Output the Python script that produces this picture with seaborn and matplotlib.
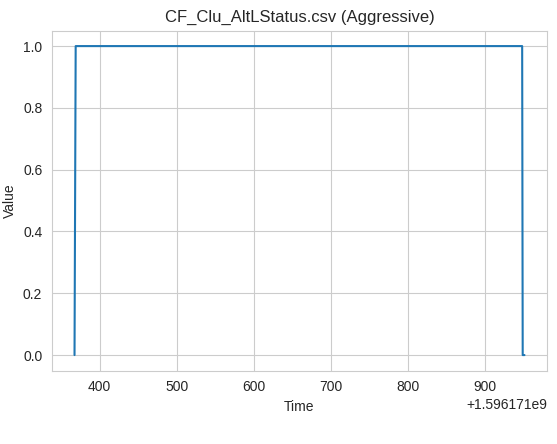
import matplotlib
matplotlib.use("Agg")
import matplotlib.pyplot as plt
import pandas as pd
import seaborn as sns

# status signal samples (epoch seconds) and values
TIME = [1596171367.5, 1596171369.0, 1596171948.5, 1596171949.2, 1596171951.5]
VALUE = [0, 1, 1, 0, 0]

sns.set_style("whitegrid")
plt.rcParams['font.family'] = ['Liberation Sans', 'DejaVu Sans']

df = pd.DataFrame({'Time': TIME, 'Value': VALUE})

fig, ax = plt.subplots(figsize=(5.57, 4.44), dpi=100)
sns.lineplot(x='Time', y='Value', data=df, ax=ax, color='#1f77b4', linewidth=1.5)
ax.set_title('CF_Clu_AltLStatus.csv (Aggressive)', fontsize=12)
ax.set_xlabel('Time', fontsize=10)
ax.set_ylabel('Value', fontsize=10)
ax.tick_params(labelsize=10)
ax.set_ylim(-0.05, 1.05)

fig.subplots_adjust(left=0.0934, right=0.982, top=0.931, bottom=0.1655)
fig.savefig('out.png', dpi=100)
plt.close(fig)
